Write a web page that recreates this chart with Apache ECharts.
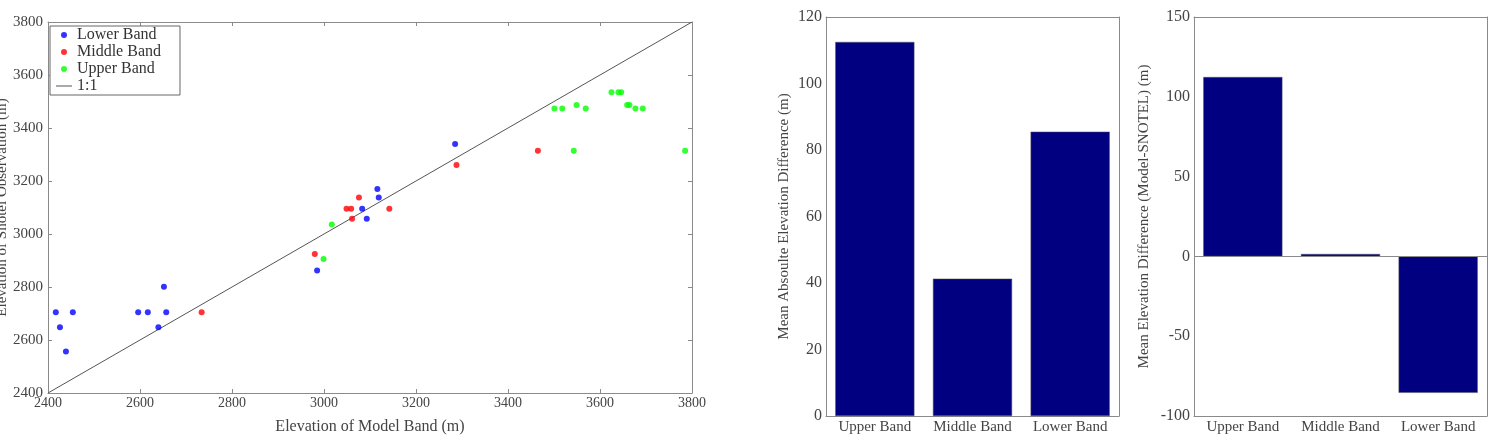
<!DOCTYPE html>
<html><head><meta charset="utf-8">
<script src="https://cdn.jsdelivr.net/npm/echarts@6/dist/echarts.min.js"></script>
<style>html,body{margin:0;padding:0;background:#fff}#c{width:1489px;height:441px}</style>
</head><body><div id="c"></div>
<script>
// Scatter data: [model band elevation, SNOTEL observation elevation]
const lowerBand = [[2417,2705],[2426,2648],[2439,2557],[2454,2705],[2596,2705],[2617,2705],[2640,2648],[2652,2801],[2657,2705],[2985,2862],[3083,3095],[3093,3058],[3116,3170],[3119,3138],[3285,3340]];
const middleBand = [[2734,2705],[2980,2925],[3049,3095],[3059,3095],[3061,3058],[3076,3138],[3142,3095],[3288,3260],[3465,3314]];
const upperBand = [[2999,2906],[3017,3036],[3501,3474],[3518,3474],[3543,3314],[3549,3487],[3569,3474],[3625,3535],[3640,3535],[3646,3535],[3659,3487],[3664,3487],[3677,3474],[3693,3474],[3785,3314]];
const oneToOne = [[2400,2400],[3800,3800]];

const bandCategories = ['Upper Band','Middle Band','Lower Band'];
const meanAbsDiff = [112.5, 41.3, 85.5];
const meanDiff = [112.4, 1.5, -85.5];

const serif = 'Liberation Serif';
const txt = {fontFamily: serif, color: '#444', fontSize: 14};
const axLine = {lineStyle:{color:'#8a8a8a', width:1}};
const tickIn = {inside:true, length:4, lineStyle:{color:'#8a8a8a'}};
const plain = v => String(v);

function valAxis(o){
  return Object.assign({type:'value', axisLine:Object.assign({show:true, onZero:false}, axLine), axisTick:tickIn, splitLine:{show:false},
    axisLabel:Object.assign({formatter:plain}, txt), nameTextStyle:Object.assign({}, txt, {fontSize:15})}, o);
}
function mirror(o){
  return Object.assign({type:'value', axisLine:Object.assign({show:true, onZero:false}, axLine), axisTick:tickIn, axisLabel:{show:false}, splitLine:{show:false}}, o);
}
function catAxis(o){
  return Object.assign({type:'category', data:bandCategories, axisLine:Object.assign({show:true, onZero:false}, axLine),
    axisTick:Object.assign({alignWithLabel:true}, tickIn),
    axisLabel:Object.assign({}, txt, {fontSize:15, margin:4, interval:0, hideOverlap:false}), splitLine:{show:false}}, o);
}

const chart = echarts.init(document.getElementById('c'));
chart.setOption({
  animation:false,
  backgroundColor:'#fff',
  grid:[
    {left:48, top:22, width:644, height:371, outerBoundsMode:'none', containLabel:false},
    {left:826, top:17, width:293, height:399, outerBoundsMode:'none', containLabel:false},
    {left:1194, top:17, width:293, height:399, outerBoundsMode:'none', containLabel:false}
  ],
  legend:{
    orient:'vertical', left:50, top:26, itemGap:1, padding:[1,19,1,6],
    borderColor:'#666', borderWidth:1, backgroundColor:'#fff',
    itemWidth:16, itemHeight:6, symbolKeepAspect:true,
    textStyle:{fontFamily:serif, fontSize:16, color:'#333'},
    data:[{name:'Lower Band', icon:'circle'},{name:'Middle Band', icon:'circle'},{name:'Upper Band', icon:'circle'},
          {name:'1:1', icon:'path://M0,0H16V1H0Z'}]
  },
  xAxis:[
    valAxis({gridIndex:0, min:2400, max:3800, interval:200, name:'Elevation of Model Band (m)', nameLocation:'middle', nameGap:26,
      axisLabel:Object.assign({formatter:plain}, txt, {margin:3}), nameTextStyle:Object.assign({}, txt, {fontSize:16})}),
    mirror({gridIndex:0, min:2400, max:3800, interval:200, position:'top'}),
    catAxis({gridIndex:1}),
    catAxis({gridIndex:1, position:'top', axisLabel:{show:false}}),
    catAxis({gridIndex:2}),
    catAxis({gridIndex:2, position:'top', axisLabel:{show:false}})
  ],
  yAxis:[
    valAxis({gridIndex:0, min:2400, max:3800, interval:200, name:'Elevation of Snotel Observation (m)', nameLocation:'middle', nameGap:38,
      axisLabel:Object.assign({formatter:plain}, txt, {fontSize:15, margin:5})}),
    mirror({gridIndex:0, min:2400, max:3800, interval:200, position:'right'}),
    valAxis({gridIndex:1, min:0, max:120, interval:20, name:'Mean Absoulte Elevation Difference (m)', nameLocation:'middle', nameGap:34,
      axisLabel:Object.assign({formatter:plain}, txt, {fontSize:16, margin:4})}),
    mirror({gridIndex:1, min:0, max:120, interval:20, position:'right'}),
    valAxis({gridIndex:2, min:-100, max:150, interval:50, name:'Mean Elevation Difference (Model-SNOTEL) (m)', nameLocation:'middle', nameGap:42,
      axisLabel:Object.assign({formatter:plain}, txt, {fontSize:16, margin:4})}),
    mirror({gridIndex:2, min:-100, max:150, interval:50, position:'right'})
  ],
  series:[
    {name:'1:1', type:'line', xAxisIndex:0, yAxisIndex:0, data:oneToOne, symbol:'none', itemStyle:{color:'#555'}, lineStyle:{color:'#555', width:1}, z:1},
    {name:'Lower Band', type:'scatter', xAxisIndex:0, yAxisIndex:0, data:lowerBand, symbolSize:6, itemStyle:{color:'#0000ff'}, z:3},
    {name:'Middle Band', type:'scatter', xAxisIndex:0, yAxisIndex:0, data:middleBand, symbolSize:6, itemStyle:{color:'#ff0000'}, z:3},
    {name:'Upper Band', type:'scatter', xAxisIndex:0, yAxisIndex:0, data:upperBand, symbolSize:6, itemStyle:{color:'#00ff00'}, z:3},
    {name:'abs', type:'bar', xAxisIndex:2, yAxisIndex:2, data:meanAbsDiff, barWidth:'81%', itemStyle:{color:'#000080', borderColor:'#555', borderWidth:0.5}},
    {name:'diff', type:'bar', xAxisIndex:4, yAxisIndex:4, data:meanDiff, barWidth:'81%', itemStyle:{color:'#000080', borderColor:'#555', borderWidth:0.5},
      markLine:{silent:true, symbol:'none', label:{show:false}, lineStyle:{color:'#8a8a8a', type:'solid', width:1}, data:[{yAxis:0}]}}
  ]
});
</script></body></html>
